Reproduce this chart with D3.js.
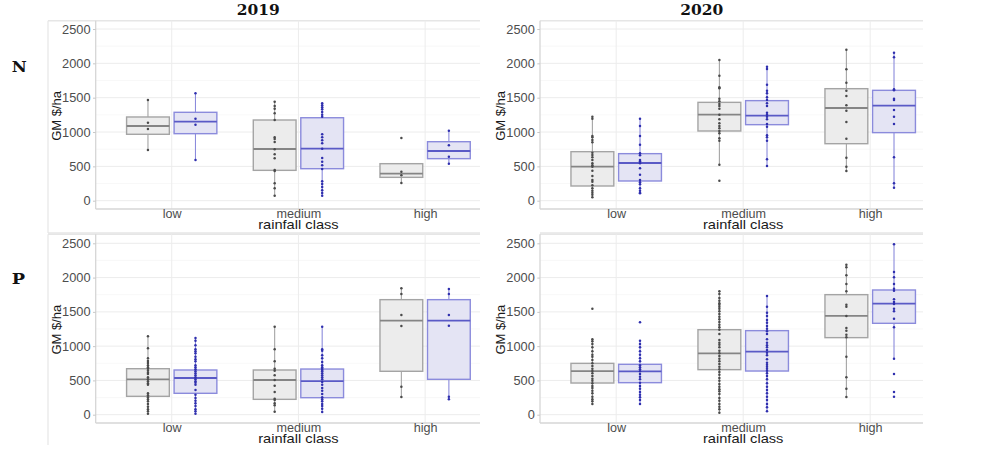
<!DOCTYPE html>
<html>
<head>
<meta charset="utf-8">
<script src="https://cdn.jsdelivr.net/npm/d3@7"></script>
<style>
  html, body { margin: 0; padding: 0; background: #fff; }
  svg { display: block; }
</style>
</head>
<body>
<svg id="chart" width="994" height="467"></svg>
<script>
// ---------- data ----------
const categories = ["low", "medium", "high"];
const seriesKeys = ["grey", "blue"];
const yTicks = [0, 500, 1000, 1500, 2000, 2500];
const yMinor = [250, 750, 1250, 1750, 2250];
const years = ["2019", "2020"];
const nutrients = ["N", "P"];
const yTitle = "GM $/ha";
const xTitle = "rainfall class";

// box stats per category: [lower whisker, q1, median, q3, upper whisker]
const N2019_greyBox = [[738, 967, 1088, 1219, 1466], [73, 442, 753, 1175, 1442], [258, 340, 394, 539, 539]];
const N2019_blueBox = [[593, 976, 1151, 1287, 1563], [73, 466, 757, 1208, 1418], [534, 612, 724, 859, 1019]];
const N2019_greyPts = [
  [738, 1044, 1136, 1466],
  [73, 180, 253, 432, 447, 617, 675, 748, 855, 898, 923, 1175, 1272, 1340, 1379, 1442],
  [258, 369, 422, 913]];
const N2019_bluePts = [
  [593, 1107, 1194, 1563],
  [73, 112, 151, 199, 243, 282, 461, 515, 568, 622, 757, 835, 879, 923, 966, 1223, 1252, 1291, 1330, 1359, 1388, 1418],
  [539, 641, 806, 1019]];

const N2020_greyBox = [[49, 214, 496, 714, 1224], [525, 1015, 1253, 1432, 2049], [432, 830, 1350, 1631, 2199]];
const N2020_blueBox = [[107, 287, 549, 685, 1194], [505, 1107, 1238, 1457, 1951], [190, 991, 1384, 1607, 2155]];
const N2020_greyPts = [
  [49, 88, 117, 146, 180, 224, 277, 301, 360, 437, 496, 515, 544, 593, 631, 665, 699, 850, 884, 923, 942, 1195, 1224],
  [292, 525, 874, 908, 981, 1015, 1054, 1088, 1127, 1185, 1253, 1340, 1379, 1408, 1447, 1486, 1636, 1651, 1820, 2049],
  [432, 496, 627, 903, 1146, 1311, 1389, 1524, 1602, 1719, 1913, 2199]];
const N2020_bluePts = [
  [107, 117, 146, 180, 238, 267, 301, 379, 471, 544, 573, 593, 661, 690, 816, 942, 1088, 1194],
  [505, 602, 874, 923, 952, 1078, 1117, 1185, 1224, 1253, 1282, 1379, 1418, 1466, 1505, 1563, 1602, 1689, 1918, 1951],
  [190, 253, 631, 1117, 1224, 1321, 1466, 1486, 1607, 1622, 2087, 2155]];

const P2019_greyBox = [[15, 268, 516, 671, 1143], [44, 224, 506, 652, 1284], [258, 633, 1372, 1678, 1843]];
const P2019_blueBox = [[15, 312, 535, 652, 1119], [39, 248, 491, 666, 1284], [224, 516, 1372, 1678, 1833]];
const P2019_greyPts = [
  [15, 49, 78, 117, 156, 195, 224, 253, 283, 312, 438, 458, 487, 516, 545, 594, 613, 642, 671, 691, 720, 754, 783, 822, 968, 1143],
  [44, 137, 166, 214, 234, 331, 423, 506, 574, 642, 671, 778, 953, 1284],
  [258, 409, 1294, 1454, 1760, 1843]];
const P2019_bluePts = [
  [15, 49, 78, 127, 166, 205, 244, 292, 360, 438, 467, 487, 516, 545, 574, 603, 633, 662, 691, 720, 778, 808, 846, 895, 924, 953, 1012, 1080, 1119],
  [39, 88, 127, 156, 195, 224, 253, 301, 350, 389, 438, 477, 516, 545, 574, 603, 633, 652, 671, 691, 720, 769, 822, 866, 934, 953, 1284],
  [224, 263, 1298, 1454, 1760, 1833]];

const P2020_greyBox = [[156, 462, 637, 749, 1099], [30, 657, 895, 1240, 1799], [258, 1124, 1440, 1751, 2188]];
const P2020_blueBox = [[156, 467, 633, 735, 1080], [49, 637, 919, 1226, 1731], [817, 1333, 1620, 1819, 2485]];
const P2020_greyPts = [
  [156, 195, 224, 263, 312, 350, 389, 419, 458, 496, 526, 564, 603, 637, 671, 710, 749, 798, 846, 876, 924, 983, 1031, 1070, 1099, 1547],
  [30, 78, 117, 156, 205, 244, 302, 341, 370, 409, 448, 496, 535, 584, 623, 662, 701, 740, 778, 817, 856, 895, 934, 983, 1021, 1051, 1090, 1177, 1240, 1274, 1313, 1352, 1391, 1430, 1469, 1508, 1547, 1576, 1605, 1624, 1663, 1702, 1760, 1799],
  [258, 380, 545, 846, 1128, 1167, 1226, 1265, 1440, 1576, 1605, 1799, 1906, 2033, 2149, 2188]];
const P2020_bluePts = [
  [156, 214, 253, 292, 331, 380, 419, 467, 516, 555, 594, 633, 662, 691, 720, 778, 822, 876, 924, 983, 1031, 1080, 1347],
  [49, 107, 156, 214, 263, 312, 360, 409, 458, 516, 564, 603, 642, 671, 701, 730, 759, 808, 866, 905, 944, 983, 1012, 1051, 1099, 1177, 1216, 1255, 1294, 1342, 1381, 1440, 1488, 1576, 1731],
  [263, 331, 594, 817, 1274, 1401, 1508, 1547, 1615, 1644, 1683, 1809, 1838, 1906, 2004, 2081, 2485]];

// ---------- layout ----------
const svg = d3.select("#chart");
const FONT = "'Liberation Sans', Arial, Helvetica, sans-serif";
const SERIF = "'DejaVu Serif', 'Liberation Serif', serif";

const colors = {
  grey: { fill: "#ececec", stroke: "#a4a4a4", median: "#858585", point: "#4a4a4a" },
  blue: { fill: "#e4e4f4", stroke: "#8b8bdc", median: "#5a5ac6", point: "#2f2fae" }
};

const cols = [
  { left: 95.7, right: 480, step: 126.7, imgLeft: 48, yTitleX: 61, year: years[0], titleX: 258.3 },
  { left: 540, right: 923, step: 127, imgLeft: null, yTitleX: 504.5, year: years[1], titleX: 701.7 }
];
const rows = [
  { top: 20.7, bottom: 209, yZero: 200.7, yMax: 29, imgBottom: 233, nutrient: nutrients[0], labelY: 71.7, labelW: 15 },
  { top: 234.3, bottom: 423, yZero: 414.7, yMax: 243.3, imgBottom: 445, nutrient: nutrients[1], labelY: 284.3, labelW: 13.3 }
];

const panelData = {
  "N2019": { grey: [N2019_greyBox, N2019_greyPts], blue: [N2019_blueBox, N2019_bluePts] },
  "N2020": { grey: [N2020_greyBox, N2020_greyPts], blue: [N2020_blueBox, N2020_bluePts] },
  "P2019": { grey: [P2019_greyBox, P2019_greyPts], blue: [P2019_blueBox, P2019_bluePts] },
  "P2020": { grey: [P2020_greyBox, P2020_greyPts], blue: [P2020_blueBox, P2020_bluePts] }
};

// column titles
cols.forEach(c => {
  svg.append("text")
    .attr("x", c.titleX).attr("y", 15.3)
    .attr("text-anchor", "middle")
    .attr("font-family", SERIF).attr("font-weight", "bold")
    .attr("font-size", 14.5)
    .attr("textLength", 43).attr("lengthAdjust", "spacingAndGlyphs")
    .attr("fill", "#111")
    .text(c.year);
});
// row labels
rows.forEach(r => {
  svg.append("text")
    .attr("x", 11.7).attr("y", r.labelY)
    .attr("font-family", SERIF).attr("font-weight", "bold")
    .attr("font-size", 14)
    .attr("textLength", r.labelW).attr("lengthAdjust", "spacingAndGlyphs")
    .attr("fill", "#111")
    .text(r.nutrient);
});

rows.forEach((r, ri) => {
  cols.forEach((c, ci) => {
    const key = r.nutrient + c.year;
    const pd = panelData[key];
    const g = svg.append("g");

    const y = d3.scaleLinear().domain([0, 2500]).range([r.yZero, r.yMax]);
    const x = d3.scalePoint().domain(categories)
      .range([c.left + 0.6 * c.step, c.left + 2.6 * c.step]);
    const dodge = d3.scaleBand().domain(seriesKeys)
      .range([-0.375 * c.step, 0.375 * c.step])
      .paddingInner(0.1).paddingOuter(0.05);

    // faint image border
    const bc = "#e6e6e6";
    if (c.imgLeft !== null) {
      g.append("line").attr("x1", c.imgLeft).attr("x2", c.imgLeft)
        .attr("y1", r.top).attr("y2", r.imgBottom)
        .attr("stroke", bc).attr("stroke-width", 1.2);
    }
    const bx0 = c.imgLeft !== null ? c.imgLeft : c.left;
    g.append("line").attr("x1", bx0).attr("x2", c.right)
      .attr("y1", r.top).attr("y2", r.top)
      .attr("stroke", bc).attr("stroke-width", 1.5);
    if (ri === 0) {
      g.append("line").attr("x1", bx0).attr("x2", c.right)
        .attr("y1", r.imgBottom).attr("y2", r.imgBottom)
        .attr("stroke", bc).attr("stroke-width", 1.5);
    }

    // grid
    g.selectAll(".minor").data(yMinor).join("line")
      .attr("x1", c.left).attr("x2", c.right)
      .attr("y1", d => y(d)).attr("y2", d => y(d))
      .attr("stroke", "#f5f5f5").attr("stroke-width", 0.7);
    g.selectAll(".major").data(yTicks).join("line")
      .attr("x1", c.left).attr("x2", c.right)
      .attr("y1", d => y(d)).attr("y2", d => y(d))
      .attr("stroke", "#ececec").attr("stroke-width", 1);
    g.selectAll(".vgrid").data(categories).join("line")
      .attr("x1", d => x(d)).attr("x2", d => x(d))
      .attr("y1", r.top).attr("y2", r.bottom)
      .attr("stroke", "#ececec").attr("stroke-width", 1);

    // axis lines
    g.append("line").attr("x1", c.left).attr("x2", c.left)
      .attr("y1", r.top).attr("y2", r.bottom)
      .attr("stroke", "#d6d6d6").attr("stroke-width", 1.3);
    g.append("line").attr("x1", c.left).attr("x2", c.right)
      .attr("y1", r.bottom).attr("y2", r.bottom)
      .attr("stroke", "#d6d6d6").attr("stroke-width", 1.3);

    // y axis ticks + labels
    const yAxis = d3.axisLeft(y).tickValues(yTicks).tickFormat(d3.format("d"))
      .tickSize(2.7).tickPadding(2.5);
    const ya = g.append("g").attr("transform", `translate(${c.left},0)`).call(yAxis);
    ya.select(".domain").remove();
    ya.selectAll(".tick line").attr("stroke", "#c8c8c8");
    ya.selectAll(".tick text").attr("fill", "#4d4d4d")
      .attr("font-family", FONT).attr("font-size", 12.8);

    // x axis labels
    const xAxis = d3.axisBottom(x).tickSize(0).tickPadding(0);
    const xa = g.append("g").attr("transform", `translate(0,${r.bottom})`).call(xAxis);
    xa.select(".domain").remove();
    xa.selectAll(".tick text").attr("fill", "#4d4d4d")
      .attr("font-family", FONT).attr("font-size", 12.6)
      .attr("dy", null).attr("y", 9.2);

    // axis titles
    g.append("text")
      .attr("x", x("medium")).attr("y", r.bottom + 19.8)
      .attr("text-anchor", "middle")
      .attr("font-family", FONT).attr("font-size", 13)
      .attr("textLength", 80.5).attr("lengthAdjust", "spacingAndGlyphs")
      .attr("fill", "#1a1a1a")
      .text(xTitle);
    g.append("text")
      .attr("transform", `translate(${c.yTitleX},${(r.top + r.bottom) / 2 + 1}) rotate(-90)`)
      .attr("text-anchor", "middle")
      .attr("font-family", FONT).attr("font-size", 13)
      .attr("fill", "#1a1a1a")
      .text(yTitle);

    // boxes
    seriesKeys.forEach(s => {
      const [boxes, pts] = pd[s];
      const col = colors[s];
      categories.forEach((cat, i) => {
        const [lo, q1, med, q3, hi] = boxes[i];
        const x0 = x(cat) + dodge(s);
        const bw = dodge.bandwidth();
        const cx = x0 + bw / 2;
        const bg = g.append("g");
        // whiskers
        bg.append("line").attr("x1", cx).attr("x2", cx)
          .attr("y1", y(hi)).attr("y2", y(q3))
          .attr("stroke", col.stroke).attr("stroke-width", 1.1);
        bg.append("line").attr("x1", cx).attr("x2", cx)
          .attr("y1", y(q1)).attr("y2", y(lo))
          .attr("stroke", col.stroke).attr("stroke-width", 1.1);
        // box
        bg.append("rect")
          .attr("x", x0).attr("width", bw)
          .attr("y", y(q3)).attr("height", y(q1) - y(q3))
          .attr("fill", col.fill).attr("stroke", col.stroke).attr("stroke-width", 1.4);
        // median
        bg.append("line").attr("x1", x0).attr("x2", x0 + bw)
          .attr("y1", y(med)).attr("y2", y(med))
          .attr("stroke", col.median).attr("stroke-width", 1.8);
        // points
        bg.selectAll("circle").data(pts[i]).join("circle")
          .attr("cx", cx).attr("cy", d => y(d)).attr("r", 1.25)
          .attr("fill", col.point);
      });
    });
  });
});
</script>
</body>
</html>
